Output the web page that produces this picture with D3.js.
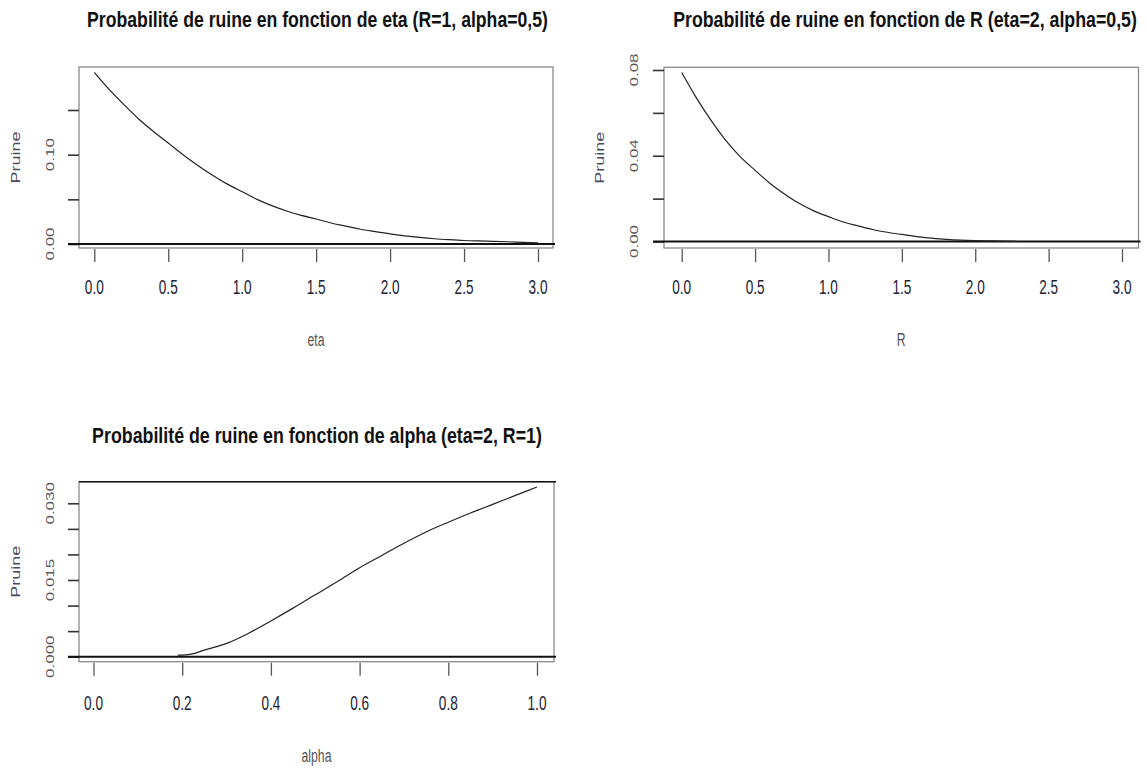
<!DOCTYPE html>
<html>
<head>
<meta charset="utf-8">
<script src="https://cdn.jsdelivr.net/npm/d3@7"></script>
<style>
html,body{margin:0;padding:0;background:#fff;}
svg{display:block;}
</style>
</head>
<body>
<svg id="chart" width="1147" height="768"></svg>
<script>
// ---- Data ----
const etaValues = [0.0,0.1,0.2,0.3,0.4,0.5,0.6,0.7,0.8,0.9,1.0,1.1,1.2,1.3,1.4,1.5,1.6,1.7,1.8,1.9,2.0,2.1,2.2,2.3,2.4,2.5,2.6,2.7,2.8,2.9,3.0];
const pruineEta = [0.192,0.173,0.156,0.140,0.126,0.113,0.100,0.088,0.077,0.067,0.0585,0.050,0.043,0.037,0.032,0.028,0.0235,0.0200,0.0165,0.0138,0.0113,0.0092,0.0074,0.0059,0.0048,0.0039,0.0034,0.0030,0.0025,0.0019,0.0014];

const rValues = [0.0,0.1,0.2,0.3,0.4,0.5,0.6,0.7,0.8,0.9,1.0,1.1,1.2,1.3,1.4,1.5,1.6,1.7,1.8,1.9,2.0,2.1,2.2,2.28];
const pruineR = [0.0788,0.067,0.0565,0.0472,0.0395,0.0332,0.0272,0.0222,0.0178,0.0143,0.0116,0.0091,0.0073,0.0056,0.0043,0.0033,0.0023,0.0016,0.0010,0.0006,0.0004,0.0003,0.0002,0.0001];

const alphaValues = [0.19,0.2,0.22,0.25,0.3,0.35,0.4,0.45,0.5,0.55,0.6,0.65,0.7,0.75,0.8,0.85,0.9,0.95,1.0];
const pruineAlpha = [0.0003,0.0003,0.0005,0.0013,0.0026,0.0046,0.0070,0.0095,0.0121,0.0147,0.0174,0.0198,0.0222,0.0244,0.0263,0.0281,0.0298,0.0315,0.0332];

const xTicksEta = [0,0.5,1,1.5,2,2.5,3];
const xTicksR = [0,0.5,1,1.5,2,2.5,3];
const xTicksAlpha = [0,0.2,0.4,0.6,0.8,1.0];
const yTicksEta = [0,0.05,0.10,0.15];
const yLabelsEta = [0,0.10];
const yTicksR = [0,0.02,0.04,0.06,0.08];
const yLabelsR = [0,0.04,0.08];
const yTicksAlpha = [0,0.005,0.010,0.015,0.020,0.025,0.030];
const yLabelsAlpha = [0,0.015,0.030];

const titles = [
  "Probabilité de ruine en fonction de eta (R=1, alpha=0,5)",
  "Probabilité de ruine en fonction de R (eta=2, alpha=0,5)",
  "Probabilité de ruine en fonction de alpha (eta=2, R=1)"
];
const xLabels = ["eta","R","alpha"];
const yLabel = "Pruine";

// ---- Layout ----
const SX = 0.68; // horizontal squeeze of the reference picture
const FONT = "'Liberation Sans', Arial, Helvetica, sans-serif";
const svg = d3.select("#chart");

const panels = [
  {xs: etaValues, ys: pruineEta, xTicks: xTicksEta, yTicks: yTicksEta, yLabels: yLabelsEta, yFmt: d3.format(".2f"), xFmt: d3.format(".1f"),
   xDom:[0,3], xRange:[94.3,538], yDom:[0,0.15], yRange:[244,110],
   box:{x0:79,x1:553,y0:67,y1:248}, title: titles[0], titleY:19, titleX0:87, titleX1:548,
   xLab: xLabels[0], xLabY:340, xTickLabY:288, yTickLabX:50, yLabX:16, topDark:false},
  {xs: rValues, ys: pruineR, xTicks: xTicksR, yTicks: yTicksR, yLabels: yLabelsR, yFmt: d3.format(".2f"), xFmt: d3.format(".1f"),
   xDom:[0,3], xRange:[681.7,1122], yDom:[0,0.08], yRange:[241.5,70],
   box:{x0:664,x1:1138.5,y0:67.3,y1:248}, title: titles[1], titleY:19, titleX0:673, titleX1:1137,
   xLab: xLabels[1], xLabY:340, xTickLabY:288, yTickLabX:634, yLabX:600, topDark:false},
  {xs: alphaValues, ys: pruineAlpha, xTicks: xTicksAlpha, yTicks: yTicksAlpha, yLabels: yLabelsAlpha, yFmt: d3.format(".3f"), xFmt: d3.format(".1f"),
   xDom:[0,1], xRange:[93.5,537], yDom:[0,0.03], yRange:[656.7,503.3],
   box:{x0:79,x1:554,y0:481.7,y1:661.7}, title: titles[2], titleY:435, titleX0:92, titleX1:542,
   xLab: xLabels[2], xLabY:756, xTickLabY:704, yTickLabX:50, yLabX:16, topDark:true}
];

panels.forEach(p => {
  const g = svg.append("g");
  const x = d3.scaleLinear().domain(p.xDom).range(p.xRange);
  const y = d3.scaleLinear().domain(p.yDom).range(p.yRange);
  const b = p.box;

  // title (squeezed horizontally to the reference width)
  const cx = (p.titleX0 + p.titleX1) / 2;
  const t = g.append("text")
    .attr("x", 0).attr("y", 0)
    .attr("text-anchor", "middle")
    .attr("dominant-baseline", "central")
    .attr("font-family", FONT)
    .attr("font-weight", "bold")
    .attr("font-size", 22)
    .attr("fill", "#111")
    .text(p.title);
  const natural = t.node().getComputedTextLength() || 1;
  const k = (p.titleX1 - p.titleX0) / natural;
  t.attr("transform", `translate(${cx},${p.titleY}) scale(${k},1)`);

  // box
  g.append("rect")
    .attr("x", b.x0).attr("y", b.y0)
    .attr("width", b.x1 - b.x0).attr("height", b.y1 - b.y0)
    .attr("fill", "none").attr("stroke", "#8a8a8a").attr("stroke-width", 1.3);
  if (p.topDark) {
    g.append("line").attr("x1", b.x0).attr("x2", b.x1 + 2).attr("y1", b.y0).attr("y2", b.y0)
      .attr("stroke", "#111").attr("stroke-width", 1.6);
  }

  // x axis ticks (below box)
  const xAxis = d3.axisBottom(x).tickValues(p.xTicks).tickSize(13).tickFormat("");
  const gx = g.append("g").attr("transform", `translate(0,${b.y1 + 1})`).call(xAxis);
  gx.select(".domain").remove();
  gx.selectAll(".tick line").attr("stroke", "#555").attr("stroke-width", 1.3);

  // x tick labels (squeezed)
  g.selectAll(".xtl").data(p.xTicks).enter().append("text")
    .attr("class", "xtl")
    .attr("transform", d => `translate(${x(d)},${p.xTickLabY}) scale(${SX},1)`)
    .attr("text-anchor", "middle")
    .attr("dominant-baseline", "central")
    .attr("font-family", FONT)
    .attr("font-size", 20)
    .attr("fill", "#222233")
    .text(p.xFmt);

  // y axis ticks (left of box)
  const yAxis = d3.axisLeft(y).tickValues(p.yTicks).tickSize(11).tickFormat("");
  const gy = g.append("g").attr("transform", `translate(${b.x0},0)`).call(yAxis);
  gy.select(".domain").remove();
  gy.selectAll(".tick line").attr("stroke", "#333").attr("stroke-width", 1.6);

  // y tick labels (rotated, squeezed)
  g.selectAll(".ytl").data(p.yLabels).enter().append("text")
    .attr("class", "ytl")
    .attr("transform", d => `translate(${p.yTickLabX},${y(d)}) scale(${SX},1) rotate(-90)`)
    .attr("text-anchor", "middle")
    .attr("dominant-baseline", "central")
    .attr("font-family", FONT)
    .attr("font-size", 17)
    .attr("fill", "#555")
    .text(p.yFmt);

  // y label
  g.append("text")
    .attr("transform", `translate(${p.yLabX},${(b.y0 + b.y1) / 2}) scale(${SX},1) rotate(-90)`)
    .attr("text-anchor", "middle")
    .attr("dominant-baseline", "central")
    .attr("font-family", FONT)
    .attr("font-size", 18)
    .attr("fill", "#4a4a5a")
    .text(yLabel);

  // x label
  g.append("text")
    .attr("transform", `translate(${(b.x0 + b.x1) / 2},${p.xLabY}) scale(${SX},1)`)
    .attr("text-anchor", "middle")
    .attr("dominant-baseline", "central")
    .attr("font-family", FONT)
    .attr("font-size", 18)
    .attr("fill", "#555")
    .text(p.xLab);

  // horizontal line at 0
  g.append("line")
    .attr("x1", b.x0 - 11).attr("x2", b.x1 + 2)
    .attr("y1", y(0)).attr("y2", y(0))
    .attr("stroke", "#111").attr("stroke-width", 2);

  // curve
  const pts = p.xs.map((v, i) => [v, p.ys[i]]);
  const line = d3.line().x(d => x(d[0])).y(d => y(d[1])).curve(d3.curveMonotoneX);
  g.append("path")
    .datum(pts)
    .attr("d", line)
    .attr("fill", "none")
    .attr("stroke", "#222")
    .attr("stroke-width", 1.2);
});
</script>
</body>
</html>
